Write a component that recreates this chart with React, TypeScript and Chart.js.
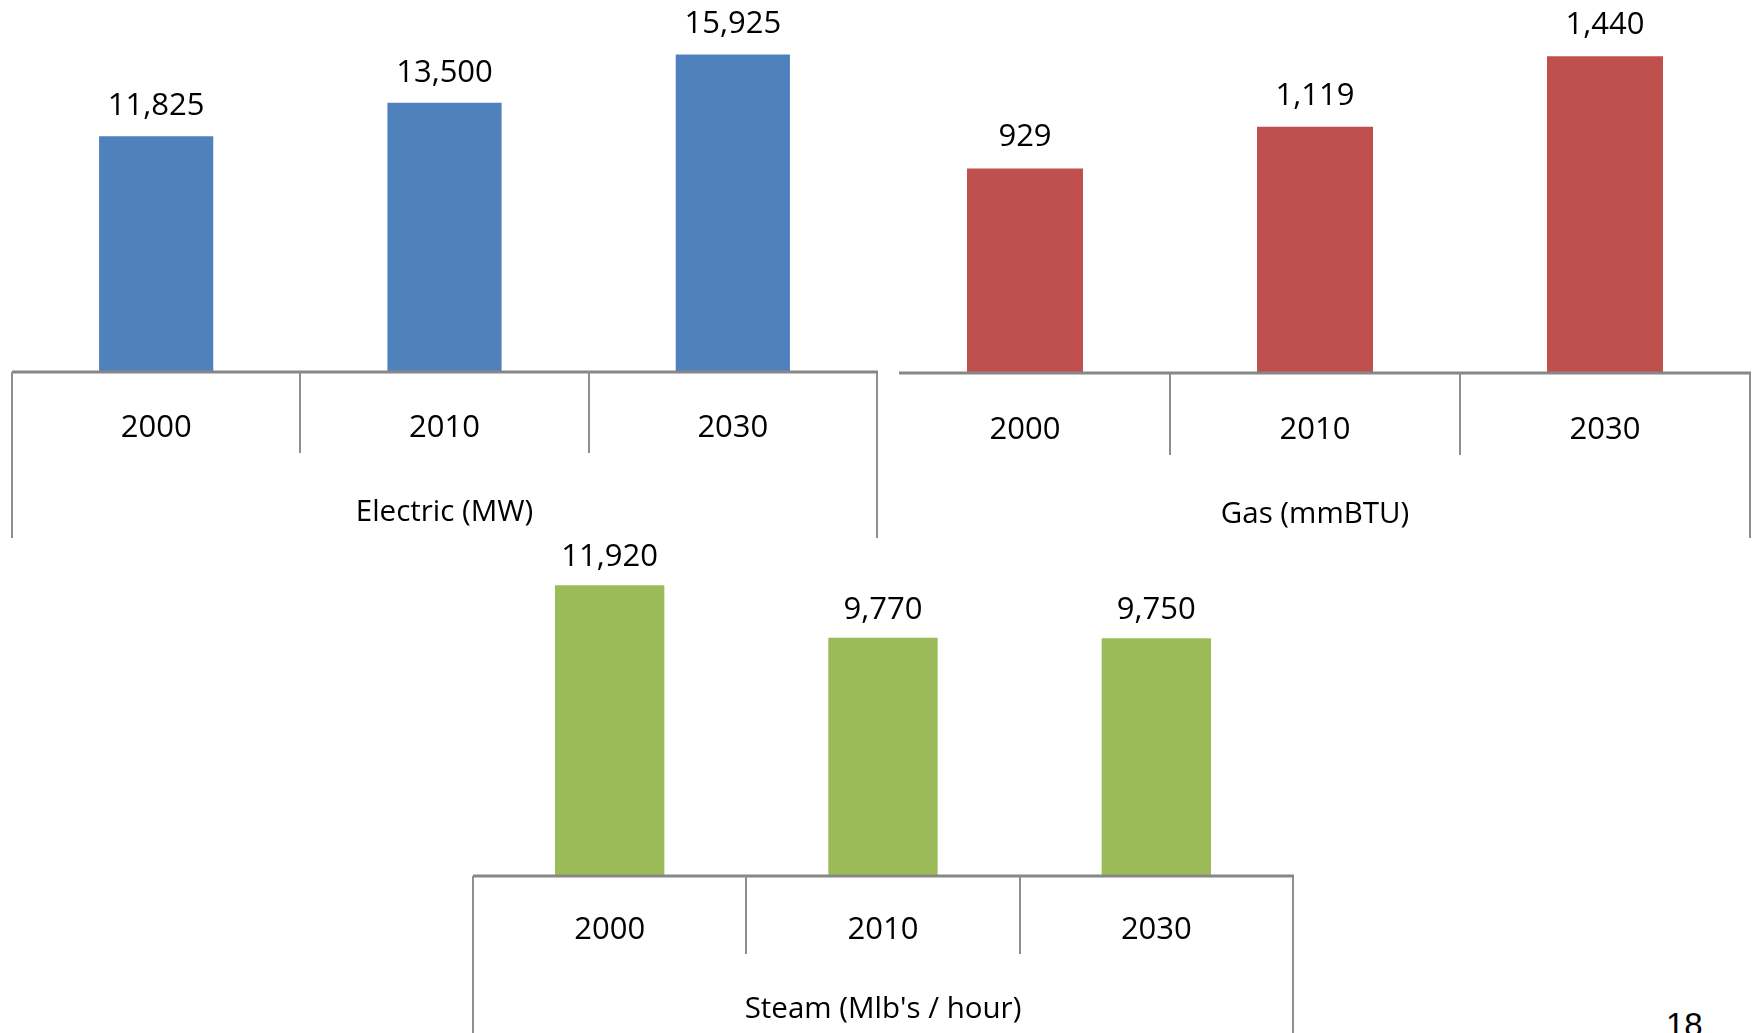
import React, { useEffect, useRef } from 'react';
import { Chart, registerables } from 'chart.js';

Chart.register(...registerables);

const categories = ['2000', '2010', '2030'];
const electricValues = [11825, 13500, 15925];
const gasValues = [929, 1119, 1440];
const steamValues = [11920, 9770, 9750];
const electricTitle = 'Electric (MW)';
const gasTitle = 'Gas (mmBTU)';
const steamTitle = "Steam (Mlb's / hour)";
const pageNumber = '18';

const FONT = "'Open Sans', 'Noto Sans', sans-serif";
const FONT_SIZE = 31;
const TITLE_SIZE = 29.5;
const AXIS_COLOR = '#878787';
const LINE_COLOR = '#8e8e8e';

type Panel = {
  key: string;
  values: number[];
  title: string;
  color: string;
  box: { left: number; top: number; width: number; height: number };
  pad: { left: number; right: number; top: number };
  axisHeight: number;
  axisStart: number;
  yMax: number;
  titlePadBottom: number;
  tickPad: number;
  dividerLen: number;
  outerLen: number;
  leftOuter: boolean;
  rightOuter: boolean;
  barPct: number;
  labelOffset: number;
};

const panels: Panel[] = [
  {
    key: 'electric',
    values: electricValues,
    title: electricTitle,
    color: '#4F81BD',
    box: { left: 0, top: 0, width: 890, height: 545 },
    pad: { left: 12, right: 13, top: 13 },
    axisHeight: 173,
    axisStart: 0,
    yMax: 18000,
    titlePadBottom: 15,
    tickPad: 38,
    dividerLen: 81,
    outerLen: 166,
    leftOuter: true,
    rightOuter: true,
    barPct: 0.396,
    labelOffset: 30,
  },
  {
    key: 'gas',
    values: gasValues,
    title: gasTitle,
    color: '#C0504D',
    box: { left: 870, top: 0, width: 888, height: 545 },
    pad: { left: 10, right: 8, top: 21 },
    axisHeight: 172,
    axisStart: 29,
    yMax: 1600,
    titlePadBottom: 13,
    tickPad: 39,
    dividerLen: 82,
    outerLen: 165,
    leftOuter: false,
    rightOuter: true,
    barPct: 0.4,
    labelOffset: 31,
  },
  {
    key: 'steam',
    values: steamValues,
    title: steamTitle,
    color: '#9BBB59',
    box: { left: 440, top: 530, width: 890, height: 503 },
    pad: { left: 33, right: 37, top: 29 },
    axisHeight: 157,
    axisStart: 0,
    yMax: 13000,
    titlePadBottom: 6,
    tickPad: 36,
    dividerLen: 78,
    outerLen: 200,
    leftOuter: true,
    rightOuter: true,
    barPct: 0.4,
    labelOffset: 28,
  },
];

function fmt(v: number): string {
  return v.toLocaleString('en-US');
}

function PanelChart({ panel }: { panel: Panel }) {
  const ref = useRef<HTMLCanvasElement | null>(null);
  useEffect(() => {
    if (!ref.current) return;
    const framePlugin = {
      id: 'frame_' + panel.key,
      afterDraw(chart: any) {
        const ctx = chart.ctx as CanvasRenderingContext2D;
        const xs = chart.scales.x;
        const area = chart.chartArea;
        const n = categories.length;
        ctx.save();
        // axis line
        const x0 = Math.max(area.left, panel.axisStart);
        ctx.fillStyle = AXIS_COLOR;
        ctx.fillRect(x0, area.bottom - 1.5, area.right - x0 + 1, 3);
        // category dividers and outer frame lines
        ctx.strokeStyle = LINE_COLOR;
        ctx.lineWidth = 2;
        for (let i = 0; i <= n; i++) {
          const isOuter = i === 0 || i === n;
          if (i === 0 && !panel.leftOuter) continue;
          if (i === n && !panel.rightOuter) continue;
          const x = Math.round(xs.getPixelForValue(i - 0.5));
          const len = isOuter ? panel.outerLen : panel.dividerLen;
          ctx.beginPath();
          ctx.moveTo(x, area.bottom);
          ctx.lineTo(x, area.bottom + len);
          ctx.stroke();
        }
        // data labels
        const meta = chart.getDatasetMeta(0);
        ctx.fillStyle = '#000';
        ctx.font = `${FONT_SIZE}px ${FONT}`;
        ctx.textAlign = 'center';
        ctx.textBaseline = 'middle';
        meta.data.forEach((bar: any, i: number) => {
          ctx.fillText(fmt(panel.values[i]), bar.x, bar.y - panel.labelOffset);
        });
        ctx.restore();
      },
    };
    const chart = new Chart(ref.current, {
      type: 'bar',
      data: {
        labels: categories,
        datasets: [
          {
            data: panel.values,
            backgroundColor: panel.color,
            borderWidth: 0,
            categoryPercentage: 1,
            barPercentage: panel.barPct,
          },
        ],
      },
      options: {
        responsive: false,
        animation: false,
        devicePixelRatio: 1,
        layout: { padding: { left: panel.pad.left, right: panel.pad.right, top: panel.pad.top, bottom: 0 } },
        plugins: { legend: { display: false }, tooltip: { enabled: false } },
        scales: {
          x: {
            position: 'bottom',
            grid: { display: false, drawTicks: false },
            border: { display: false },
            ticks: {
              color: '#000',
              padding: panel.tickPad,
              maxRotation: 0,
              font: { family: FONT, size: FONT_SIZE },
            },
            title: {
              display: true,
              text: panel.title,
              color: '#000',
              font: { family: FONT, size: TITLE_SIZE },
              padding: { top: 0, bottom: panel.titlePadBottom },
            },
            afterFit(scale: any) {
              scale.height = panel.axisHeight;
            },
          },
          y: { display: false, min: 0, max: panel.yMax },
        },
      },
      plugins: [framePlugin],
    } as any);
    return () => chart.destroy();
  }, [panel]);
  return (
    <div
      style={{
        position: 'absolute',
        left: panel.box.left,
        top: panel.box.top,
        width: panel.box.width,
        height: panel.box.height,
      }}
    >
      <canvas ref={ref} width={panel.box.width} height={panel.box.height} style={{ display: 'block' }} />
    </div>
  );
}

export default function App() {
  return (
    <div
      style={{
        position: 'fixed',
        left: 0,
        top: 0,
        width: 1758,
        height: 1033,
        overflow: 'hidden',
        background: '#fff',
      }}
    >
      {panels.map((p) => (
        <PanelChart key={p.key} panel={p} />
      ))}
      <div
        style={{
          position: 'absolute',
          left: 1666,
          top: 1008,
          fontFamily: "'Liberation Sans', Arial, sans-serif",
          fontSize: 33,
          lineHeight: 1,
          color: '#000',
        }}
      >
        {pageNumber}
      </div>
    </div>
  );
}
